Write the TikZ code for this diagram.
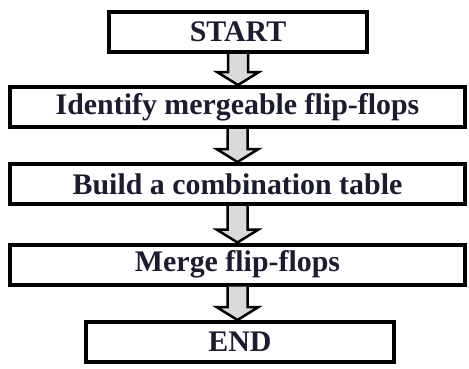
\documentclass[tikz,border=0pt]{standalone}
\usepackage{fontspec}
\setmainfont{Liberation Serif}
\usetikzlibrary{calc}
\definecolor{boxtext}{RGB}{28,28,48}
\definecolor{arrowfill}{RGB}{218,218,218}
\tikzset{
  stepbox/.style={draw=black, line width=4bp, fill=white, minimum height=40bp,
    inner sep=0pt, text=boxtext, font=\fontsize{30}{34}\selectfont\bfseries},
  fatarrow/.style={draw=black, fill=arrowfill, line width=2.5bp, line join=miter}
}
% hollow block arrow from the bottom of one box to the top of the next
\newcommand{\blockarrow}[2]{%
  \filldraw[fatarrow] let \p1=(#1.south), \p2=(#2.north) in
    (\x1-10bp,\y1) -- (\x1-10bp,\y2+13bp) -- (\x1-21bp,\y2+13bp) -- (\x1,\y2)
    -- (\x1+21bp,\y2+13bp) -- (\x1+10bp,\y2+13bp) -- (\x1+10bp,\y1);}
\begin{document}
\begin{tikzpicture}[x=1bp,y=1bp]
  \useasboundingbox (0,0) rectangle (469,-368);
  \node[stepbox, minimum width=258bp] (start) at (238,-32) {START};
  \node[stepbox, minimum width=455bp] (ident) at (237.5,-107) {Identify mergeable flip-flops};
  \node[stepbox, minimum width=455bp] (build) at (237.5,-184) {Build a combination table};
  \node[stepbox, minimum width=455bp] (merge) at (237.5,-264.5) {Merge flip-flops};
  \node[stepbox, minimum width=308bp] (finish) at (240,-342) {END};
  \blockarrow{start}{ident}
  \blockarrow{ident}{build}
  \blockarrow{build}{merge}
  \blockarrow{merge}{finish}
\end{tikzpicture}
\end{document}
